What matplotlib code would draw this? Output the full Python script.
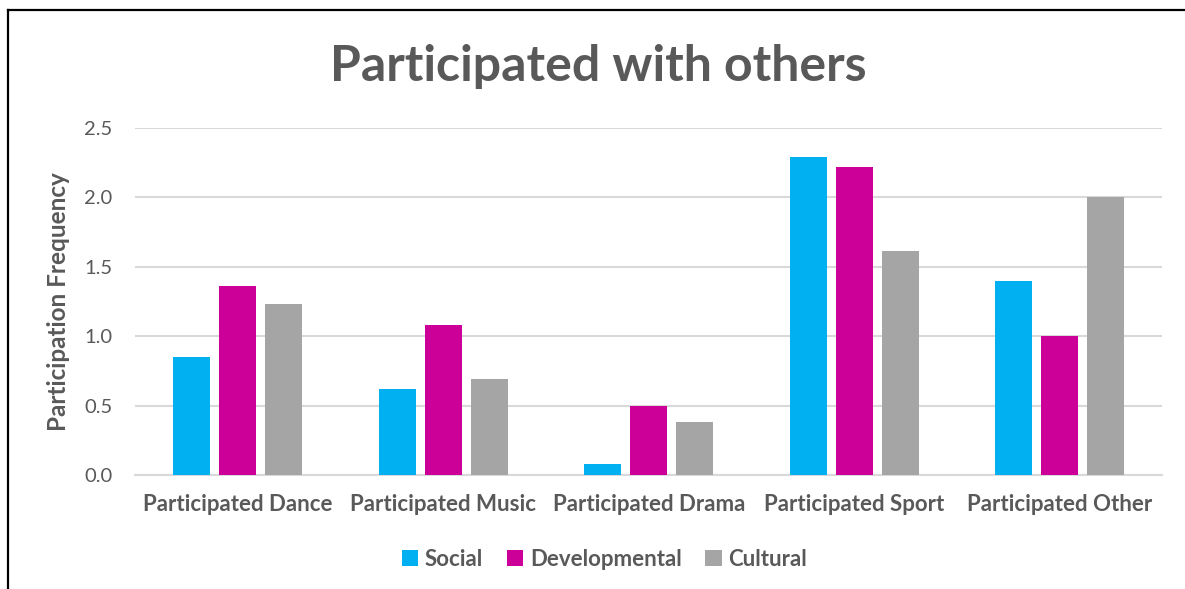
import matplotlib
matplotlib.use("Agg")
from matplotlib import pyplot as plt
from matplotlib.lines import Line2D
from matplotlib.patches import Patch
import numpy as np

# 各类活动的参与频率
categories = ["Participated Dance", "Participated Music", "Participated Drama",
              "Participated Sport", "Participated Other"]
series_names = ["Social", "Developmental", "Cultural"]
social = [0.85, 0.62, 0.08, 2.29, 1.40]
developmental = [1.36, 1.08, 0.50, 2.22, 1.00]
cultural = [1.23, 0.69, 0.38, 1.61, 2.00]
yticks = [0.0, 0.5, 1.0, 1.5, 2.0, 2.5]

colors = ["#00B0F0", "#CC0099", "#A5A5A5"]
text_color = "#595959"
grid_color = "#D9D9D9"

plt.rcParams['font.family'] = ['Lato', 'DejaVu Sans']

fig = plt.figure(figsize=(11.85, 5.89), dpi=100)
ax = fig.add_axes([0.114, 0.1936, 0.867, 0.5894])

x = np.arange(len(categories))
width = 0.18
step = 0.224
for i, (vals, name) in enumerate(zip([social, developmental, cultural], series_names)):
	ax.bar(x + (i - 1) * step, vals, width, color=colors[i], label=name, zorder=3)

ax.set_xlim(-0.5, len(categories) - 0.5)
ax.set_ylim(0, 2.5)
ax.set_yticks(yticks)
ax.set_yticklabels(["%.1f" % v for v in yticks])
ax.set_xticks(x)
ax.set_xticklabels(categories, fontweight='bold', fontsize=16)
ax.tick_params(axis='both', length=0, colors=text_color)
ax.tick_params(axis='y', pad=16.5, labelsize=14.5)
ax.tick_params(axis='x', pad=14)
ax.yaxis.grid(True, color=grid_color, linewidth=1.5, zorder=0)
for s in ['top', 'right', 'left']:
	ax.spines[s].set_visible(False)
ax.spines['bottom'].set_color(grid_color)
ax.spines['bottom'].set_linewidth(1.5)

ax.set_ylabel("Participation Frequency", fontsize=17.5, fontweight='bold',
              color=text_color, labelpad=10)

fig.text(0.505, 0.887, "Participated with others", ha='center', va='center',
         fontsize=36, fontweight='bold', color=text_color)

# 图例
handles = [Patch(facecolor=c) for c in colors]
leg = fig.legend(handles, series_names, loc='center', bbox_to_anchor=(0.51, 0.05),
                 ncol=3, frameon=False, handlelength=0.75, handleheight=0.75,
                 handletextpad=0.3, columnspacing=1.05, fontsize=16)
for t in leg.get_texts():
	t.set_color(text_color)
	t.set_fontweight('bold')

# 外框（左、上）
fig.add_artist(Line2D([8 / 1185, 8 / 1185], [0, 1 - 10 / 589], color='black', linewidth=1.6))
fig.add_artist(Line2D([8 / 1185, 1], [1 - 10 / 589, 1 - 10 / 589], color='black', linewidth=1.6))

fig.savefig("out.png", dpi=100)
